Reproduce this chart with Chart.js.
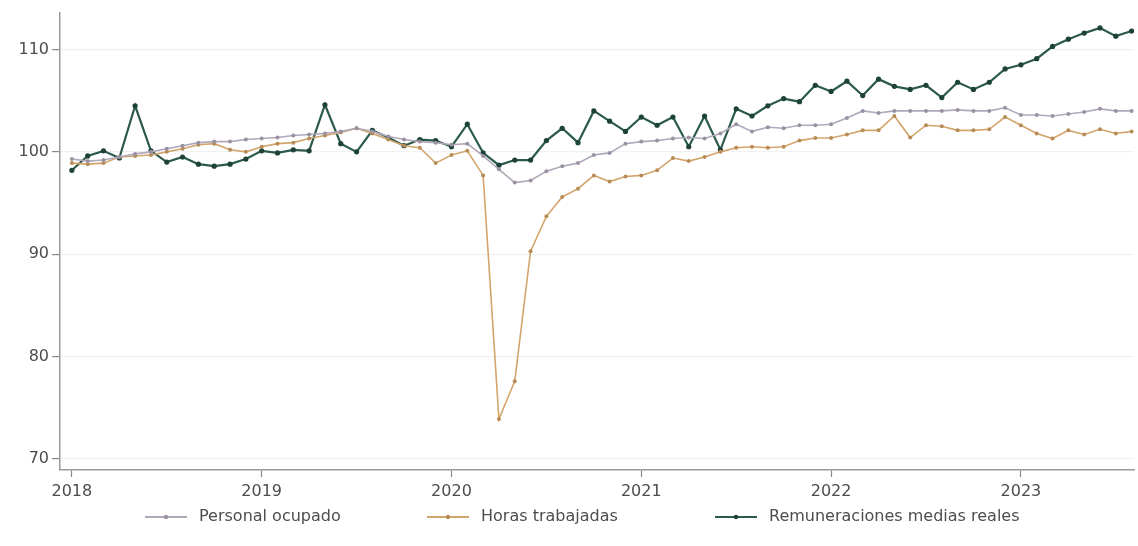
<!DOCTYPE html>
<html>
<head>
<meta charset="utf-8">
<script src="https://cdn.jsdelivr.net/npm/chart.js@4/dist/chart.umd.min.js"></script>
<style>
  html, body { margin: 0; padding: 0; background: #fff; }
  #wrap { width: 1138px; height: 546px; }
</style>
</head>
<body>
<div id="wrap"><canvas id="chart" width="1138" height="546"></canvas></div>
<script>
// Monthly index, Jan 2018 .. Aug 2023
const startYear = 2018;
const yearTicks = [2018, 2019, 2020, 2021, 2022, 2023];
const valueTicks = [70, 80, 90, 100, 110];

const personalOcupado = [
  99.3, 99.1, 99.2, 99.5, 99.8, 100.0, 100.3, 100.6, 100.9, 101.0, 101.0, 101.2,
  101.3, 101.4, 101.6, 101.7, 101.8, 102.0, 102.3, 102.0, 101.5, 101.2, 101.0, 100.9,
  100.7, 100.8, 99.6, 98.3, 97.0, 97.2, 98.1, 98.6, 98.9, 99.7, 99.9, 100.8,
  101.0, 101.1, 101.3, 101.4, 101.3, 101.8, 102.7, 102.0, 102.4, 102.3, 102.6, 102.6,
  102.7, 103.3, 104.0, 103.8, 104.0, 104.0, 104.0, 104.0, 104.1, 104.0, 104.0, 104.3,
  103.6, 103.6, 103.5, 103.7, 103.9, 104.2, 104.0, 104.0
];

const horasTrabajadas = [
  98.9, 98.8, 98.9, 99.5, 99.6, 99.7, 100.0, 100.3, 100.7, 100.8, 100.2, 100.0,
  100.5, 100.8, 100.9, 101.3, 101.6, 101.9, 102.3, 101.8, 101.2, 100.6, 100.4, 98.9,
  99.7, 100.1, 97.7, 73.9, 77.6, 90.3, 93.7, 95.6, 96.4, 97.7, 97.1, 97.6,
  97.7, 98.2, 99.4, 99.1, 99.5, 100.0, 100.4, 100.5, 100.4, 100.5, 101.1, 101.35,
  101.35, 101.7, 102.1, 102.1, 103.5, 101.4, 102.6, 102.5, 102.1, 102.1, 102.2, 103.4,
  102.6, 101.8, 101.3, 102.1, 101.7, 102.2, 101.8, 102.0
];

const remuneraciones = [
  98.2, 99.6, 100.1, 99.4, 104.5, 100.1, 99.0, 99.5, 98.8, 98.6, 98.8, 99.3,
  100.1, 99.9, 100.2, 100.1, 104.6, 100.8, 100.0, 102.1, 101.4, 100.6, 101.2, 101.1,
  100.5, 102.7, 99.9, 98.7, 99.2, 99.2, 101.1, 102.3, 100.9, 104.0, 103.0, 102.0,
  103.4, 102.6, 103.4, 100.5, 103.5, 100.2, 104.2, 103.5, 104.5, 105.2, 104.9, 106.5,
  105.9, 106.9, 105.5, 107.1, 106.4, 106.1, 106.5, 105.3, 106.8, 106.1, 106.8, 108.1,
  108.5, 109.1, 110.3, 111.0, 111.6, 112.1, 111.3, 111.8
];

const seriesNames = ["Personal ocupado", "Horas trabajadas", "Remuneraciones medias reales"];
const lineColors = ["#b1a8ba", "#d3a56c", "#2b5a4d"];
const dotColors = ["#9a91a4", "#b88c57", "#1d4238"];

const FONT = "'DejaVu Sans', sans-serif";
const TEXT = "#4d4d4d";

function toPoints(values) {
  return values.map((v, i) => ({ x: i, y: v }));
}

// legend row under the plot: short line with a dot, then the label
const legendItemX = [145, 427, 715];
const lineLegend = {
  id: "lineLegend",
  afterDraw(chart) {
    const ctx = chart.ctx;
    const y = 517;
    const sw = 42, gapText = 12;
    ctx.save();
    ctx.font = "16px " + FONT;
    ctx.textBaseline = "middle";
    chart.data.datasets.forEach((ds, i) => {
      const x = legendItemX[i];
      ctx.strokeStyle = ds.borderColor;
      ctx.lineWidth = 2;
      ctx.beginPath();
      ctx.moveTo(x, y);
      ctx.lineTo(x + sw, y);
      ctx.stroke();
      ctx.fillStyle = ds.pointBackgroundColor;
      ctx.beginPath();
      ctx.arc(x + sw / 2, y, 2.2, 0, Math.PI * 2);
      ctx.fill();
      ctx.fillStyle = TEXT;
      ctx.fillText(ds.label, x + sw + gapText, y);
    });
    ctx.restore();
  },
};

const datasets = [personalOcupado, horasTrabajadas, remuneraciones].map((vals, i) => ({
  label: seriesNames[i],
  data: toPoints(vals),
  borderColor: lineColors[i],
  pointBackgroundColor: dotColors[i],
  pointBorderColor: dotColors[i],
  borderWidth: i === 2 ? 2.2 : 1.6,
  pointRadius: i === 2 ? 2.6 : 2,
  pointBorderWidth: 0,
  tension: 0,
}));

new Chart(document.getElementById("chart"), {
  type: "line",
  data: { datasets },
  plugins: [lineLegend],
  options: {
    responsive: false,
    animation: false,
    layout: { padding: { left: 0, right: 0, top: 9, bottom: 45 } },
    scales: {
      x: {
        type: "linear",
        min: -0.75,
        max: 67.15,
        afterBuildTicks: (scale) => {
          scale.ticks = yearTicks.map((y) => ({ value: (y - startYear) * 12 }));
        },
        afterFit: (scale) => { scale.height = 31; },
        ticks: {
          color: TEXT,
          font: { family: FONT, size: 16 },
          padding: 5,
          maxRotation: 0,
          callback: (v) => String(startYear + Math.round(v / 12)),
        },
        grid: { drawOnChartArea: false, tickLength: 7, tickColor: "#888", tickWidth: 1.2 },
        border: { color: "#9a9a9a", width: 1.5 },
      },
      y: {
        min: 68.93,
        max: 113.6,
        afterBuildTicks: (scale) => {
          scale.ticks = valueTicks.map((v) => ({ value: v }));
        },
        afterFit: (scale) => { scale.width = 60; },
        ticks: {
          color: TEXT,
          font: { family: FONT, size: 16 },
          padding: 3,
        },
        grid: { color: "#f1f1f1", lineWidth: 1.2, tickLength: 8, tickColor: "#888", tickWidth: 1.2 },
        border: { color: "#9a9a9a", width: 1.5 },
      },
    },
    plugins: {
      legend: { display: false },
      tooltip: { enabled: false },
    },
  },
});
</script>
</body>
</html>
